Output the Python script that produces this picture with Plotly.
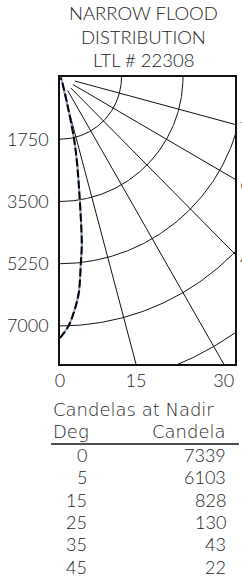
import numpy as np
import plotly.graph_objects as go

# ---- data ----
title_lines = ["NARROW FLOOD", "DISTRIBUTION", "LTL # 22308"]
curve_deg = [0, 2, 3.5, 5, 6.5, 7.5, 9.25, 11.5, 13, 15, 25, 35, 45]
curve_cd = [7339, 7000, 6600, 6103, 5250, 4750, 3500, 2400, 1750, 828, 130, 43, 22]
curve2_deg = [0, 2, 3.5, 5, 6.5, 7.5, 9.25, 11.5, 13, 15, 25, 35, 45]
curve2_cd = [7339, 7000, 6600, 6103, 5250, 4750, 3500, 2400, 1750, 828, 130, 43, 22]
ring_cd = [1750, 3500, 5250, 7000, 8750]
spoke_deg = [15, 30, 45, 60, 75]
y_ticks = [1750, 3500, 5250, 7000]
x_tick_deg = [0, 15, 30]
side_labels = ["75", "60", "45"]
table_title = "Candelas at Nadir"
table_head = ["Deg", "Candela"]
table_deg = ["0", "5", "15", "25", "35", "45"]
table_cd = ["7339", "6103", "828", "130", "43", "22"]

W, H = 242, 577
L, R, T, B = 60, 237, 77, 364
XMAX, YMAX = 4980, 8070
FONT = "Lato"
WFONT = "DejaVu Sans"
WT = 300
TXT = "#222"


def px(x):
    return (x - L) / (R - L)


def py(y):
    return (B - y) / (B - T)


def polar_xy(deg, r):
    t = np.radians(np.asarray(deg, float))
    r = np.asarray(r, float)
    return r * np.sin(t), r * np.cos(t)


fig = go.Figure()

# rings
for rc in ring_cd:
    th = np.linspace(0, 90, 181)
    x, y = polar_xy(th, np.full_like(th, rc))
    fig.add_trace(go.Scatter(x=x, y=y, mode="lines", line=dict(color="#111", width=1),
                             hoverinfo="skip", showlegend=False))
# spokes
for d in spoke_deg:
    x, y = polar_xy([d, d], [437.5, 12000])
    fig.add_trace(go.Scatter(x=x, y=y, mode="lines", line=dict(color="#111", width=1),
                             hoverinfo="skip", showlegend=False))

# curves
x, y = polar_xy(curve2_deg, curve2_cd)
fig.add_trace(go.Scatter(x=x, y=y, mode="lines", line=dict(color="#8aa4c8", width=2, shape="spline"),
                         showlegend=False))
x, y = polar_xy(curve_deg, curve_cd)
fig.add_trace(go.Scatter(x=x, y=y, mode="lines",
                         line=dict(color="#000", width=2, dash="8px,3px", shape="spline"),
                         showlegend=False))

xt = [YMAX * np.tan(np.radians(d)) for d in x_tick_deg]

fig.update_xaxes(range=[0, XMAX], showgrid=False, zeroline=False, showline=True,
                 linecolor="#111", linewidth=1.5, mirror=True,
                 tickvals=xt, ticktext=[str(d) for d in x_tick_deg], ticks="",
                 tickfont=dict(family=FONT, size=18, color=TXT, weight=WT))
fig.update_yaxes(range=[YMAX, 0], showgrid=False, zeroline=False, showline=True,
                 linecolor="#111", linewidth=1.5, mirror=True,
                 tickvals=y_ticks, ticktext=[str(v) for v in y_ticks], ticks="",
                 ticklabelstandoff=6,
                 tickfont=dict(family=FONT, size=18, color=TXT, weight=WT))

ann = []
for i, t in enumerate(title_lines):
    ann.append(dict(x=px(144), y=py(13.5 + 23.3 * i), text=t, xanchor="center", yanchor="middle",
                    font=dict(family=FONT, size=18.5, color=TXT, weight=WT)))

# clipped angle labels at the right edge
for lab, d in zip(side_labels, [75, 60, 45]):
    yy = T + (R - L) / np.tan(np.radians(d)) + 4
    ann.append(dict(x=px(240.5), y=py(yy), text=lab, xanchor="left", yanchor="middle",
                    font=dict(family=FONT, size=18, color=TXT, weight=WT)))

hfont = dict(family=WFONT, size=18, color=TXT, weight=200)
ann.append(dict(x=px(51), y=py(409), text=table_title, xanchor="left", yanchor="middle", font=hfont))
ann.append(dict(x=px(51), y=py(431), text=table_head[0], xanchor="left", yanchor="middle", font=hfont))
ann.append(dict(x=px(230), y=py(431), text=table_head[1], xanchor="right", yanchor="middle", font=hfont))
for i, (dg, cd) in enumerate(zip(table_deg, table_cd)):
    yy = 455 + 22.35 * i
    ann.append(dict(x=px(89), y=py(yy), text=dg, xanchor="right", yanchor="middle",
                    font=dict(family=FONT, size=18, color=TXT, weight=WT)))
    ann.append(dict(x=px(230), y=py(yy), text=cd, xanchor="right", yanchor="middle",
                    font=dict(family=FONT, size=18, color=TXT, weight=WT)))
for a in ann:
    a.update(xref="paper", yref="paper", showarrow=False)

fig.update_layout(
    width=W, height=H,
    margin=dict(l=L, r=W - R, t=T, b=H - B, pad=0),
    paper_bgcolor="white", plot_bgcolor="white",
    annotations=ann,
    shapes=[dict(type="line", xref="paper", yref="paper", x0=px(51), x1=px(241),
                 y0=py(444), y1=py(444), line=dict(color="#111", width=1.5))],
)

fig.write_html("out.html", config={"displayModeBar": False},
               post_script="document.body.style.margin='0';document.body.style.overflow='hidden';")
